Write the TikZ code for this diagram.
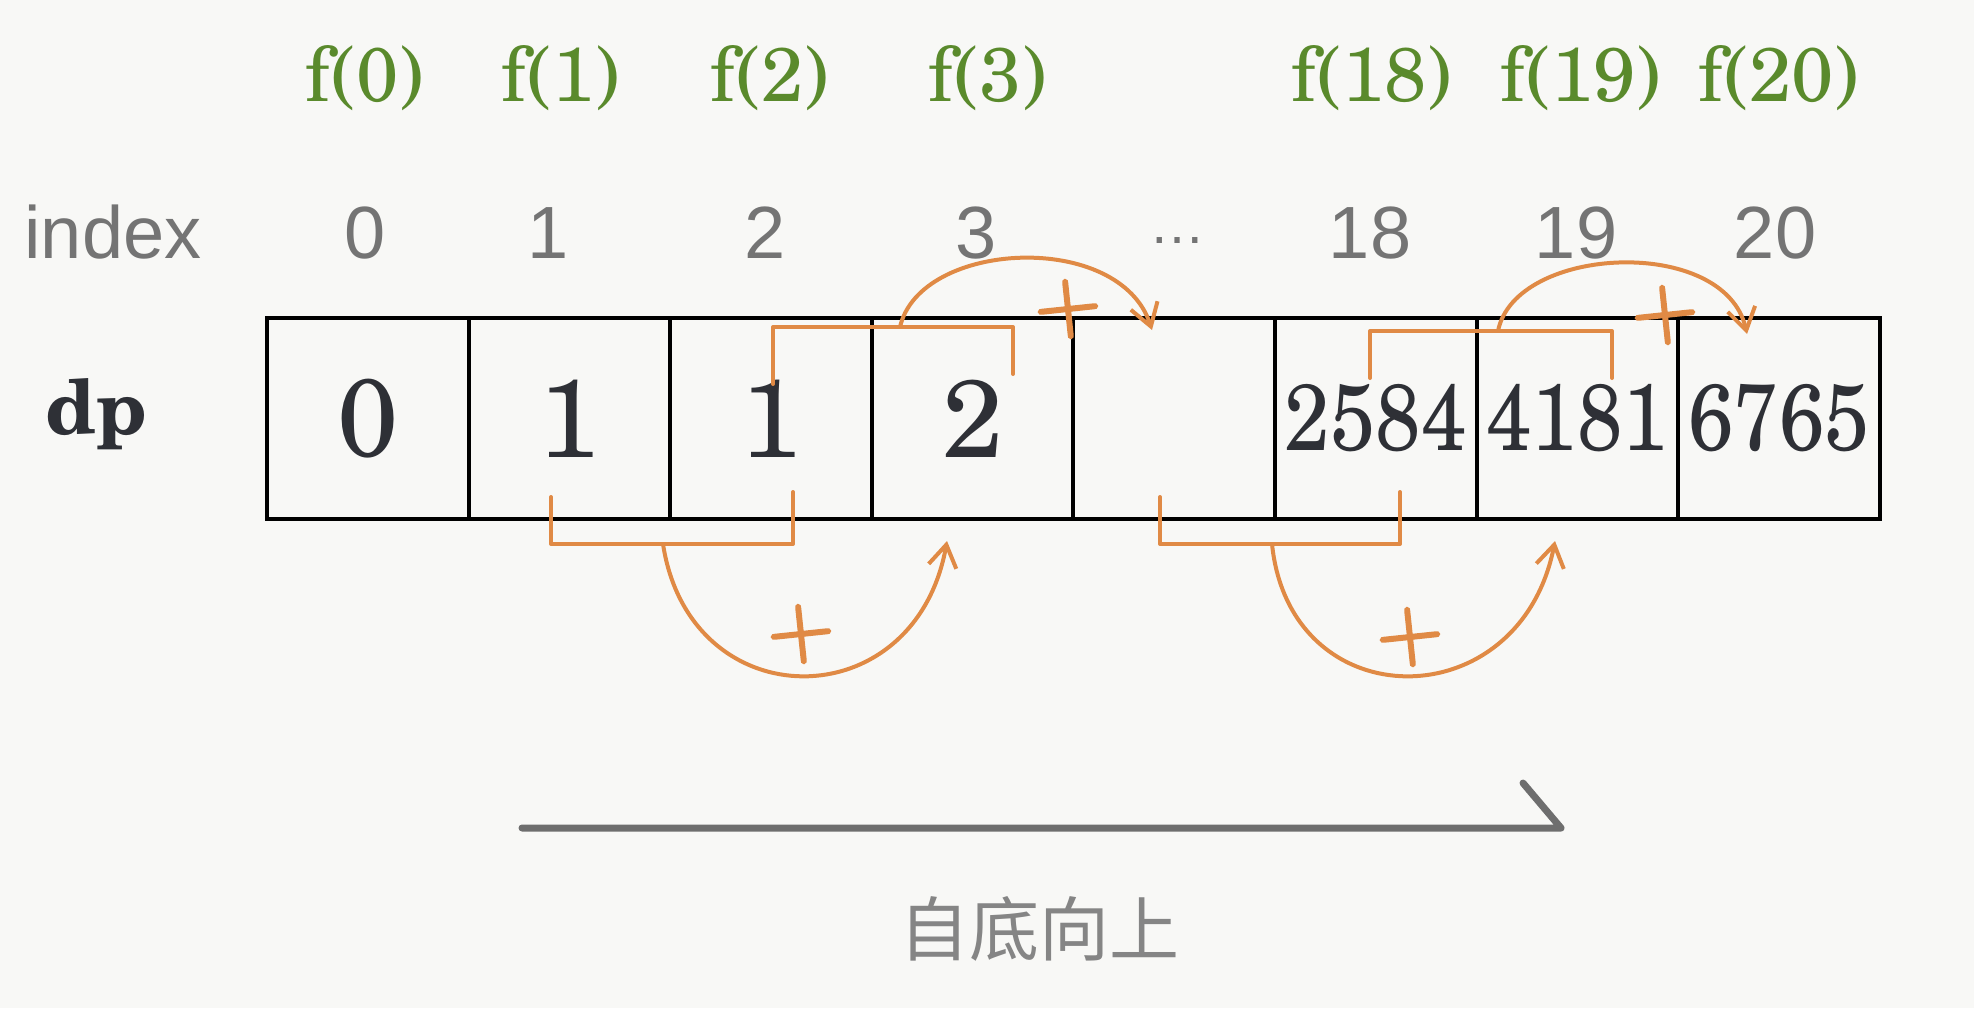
\documentclass[tikz,border=0pt]{standalone}
\usepackage{fontspec}
\newfontfamily\cjkfont{Noto Sans CJK SC}
\newfontfamily\idxfont{Liberation Sans}
\newfontfamily\numfont{texgyreschola}[Extension=.otf, UprightFont=*-regular, BoldFont=*-bold]
\newfontfamily\plusfont{Latin Modern Roman}[FakeBold=3]
\usetikzlibrary{arrows.meta}
\definecolor{bgc}{HTML}{F8F8F6}
\definecolor{fgreen}{HTML}{5A8A2C}
\definecolor{org}{HTML}{E08A45}
\definecolor{idxgray}{HTML}{747474}
\definecolor{numc}{HTML}{2E3036}
\definecolor{arrgray}{HTML}{6E6E6E}
\definecolor{cjkgray}{HTML}{858585}
\begin{document}
\begin{tikzpicture}[x=0.5pt,y=-0.5pt,
  cell/.style={draw=black, line width=2pt, minimum width=100.8pt, minimum height=100.5pt, inner sep=0pt, outer sep=0pt, text=numc, font=\numfont\fontsize{55}{55}\selectfont},
  flabel/.style={text=fgreen, anchor=base, inner sep=0pt, font=\numfont\fontsize{38}{40}\selectfont},
  idx/.style={text=idxgray, anchor=base, inner sep=0pt, font=\idxfont\fontsize{37}{40}\selectfont},
  orgline/.style={draw=org, line width=2pt, line cap=round, line join=round},
  orgarrow/.style={orgline, -{Straight Barb[length=11pt,width=14pt,line width=2pt]}},
  plus/.style={text=org, inner sep=0pt, font=\plusfont\fontsize{46}{46}\selectfont, rotate=6}
]
\useasboundingbox[fill=bgc] (0,0) rectangle (1974,1008);

% f labels
\node[flabel] (f0) at (365,101) {f(0)};
\node[flabel] (f1) at (561,101) {f(1)};
\node[flabel] (f2) at (770,101) {f(2)};
\node[flabel] (f3) at (988,101) {f(3)};
\node[flabel] (f18) at (1372,101) {f(18)};
\node[flabel] (f19) at (1581,101) {f(19)};
\node[flabel] (f20) at (1779,101) {f(20)};

% index row
\node[idx] (ix) at (113,258) {index};
\node[idx] (i0) at (365,258) {0};
\node[idx] (i1) at (548,258) {1};
\node[idx] (i2) at (765,258) {2};
\node[idx] (i3) at (976,258) {3};
\node[idx] (idots) at (1177,243) {\fontsize{28}{30}\selectfont …};
\node[idx] (i18) at (1370,258) {18};
\node[idx] (i19) at (1576,258) {19};
\node[idx] (i20) at (1775,258) {20};

% dp label
\node[text=numc, anchor=base, inner sep=0pt, font=\numfont\fontsize{38}{40}\selectfont\bfseries] (dp) at (96,434) {dp};

% cells
\node[cell] (b0) at (367.8,418.5) {0};
\node[cell] (b1) at (569.4,418.5) {1};
\node[cell] (b2) at (771,418.5) {1};
\node[cell] (b3) at (972.6,418.5) {2};
\node[cell] (b4) at (1174.2,418.5) {};
\node[cell] (b5) at (1375.8,418.5) {\fontsize{47}{47}\selectfont\scalebox{0.87}[1]{2584}};
\node[cell] (b6) at (1577.4,418.5) {\fontsize{47}{47}\selectfont\scalebox{0.87}[1]{4181}};
\node[cell] (b7) at (1779,418.5) {\fontsize{47}{47}\selectfont\scalebox{0.87}[1]{6765}};

% bracket 1 (bottom) and curve
\coordinate (k1a) at (551,497);
\coordinate (k1b) at (551,544);
\coordinate (k1c) at (793,544);
\coordinate (k1d) at (793,492);
\draw[orgline] (k1a) -- (k1b) -- (k1c) -- (k1d);
\coordinate (c1s) at (663,544);
\coordinate (c1e) at (947,541);
\draw[orgarrow] (c1s) .. controls (690,720) and (915,720) .. (c1e);
\node[plus] (p1) at (801,634) {+};

% bracket 2 (top) and curve
\coordinate (k2a) at (773,384);
\coordinate (k2b) at (773,327);
\coordinate (k2c) at (1013,327);
\coordinate (k2d) at (1013,374);
\draw[orgline] (k2a) -- (k2b) -- (k2c) -- (k2d);
\coordinate (c2s) at (900,327);
\coordinate (c2e) at (1152,330);
\draw[orgarrow] (c2s) .. controls (920,240) and (1120,230) .. (c2e);
\node[plus] (p2) at (1068,309) {+};

% bracket 3 (bottom) and curve
\coordinate (k3a) at (1160,497);
\coordinate (k3b) at (1160,544);
\coordinate (k3c) at (1400,544);
\coordinate (k3d) at (1400,492);
\draw[orgline] (k3a) -- (k3b) -- (k3c) -- (k3d);
\coordinate (c3s) at (1272,544);
\coordinate (c3e) at (1555,541);
\draw[orgarrow] (c3s) .. controls (1290,720) and (1520,720) .. (c3e);
\node[plus] (p3) at (1410,637) {+};

% bracket 4 (top) and curve
\coordinate (k4a) at (1370,378);
\coordinate (k4b) at (1370,331);
\coordinate (k4c) at (1612,331);
\coordinate (k4d) at (1612,378);
\draw[orgline] (k4a) -- (k4b) -- (k4c) -- (k4d);
\coordinate (c4s) at (1498,331);
\coordinate (c4e) at (1747,334);
\draw[orgarrow] (c4s) .. controls (1515,245) and (1725,235) .. (c4e);
\node[plus] (p4) at (1665,315) {+};

% gray direction arrow
\coordinate (ga) at (522,828);
\coordinate (gb) at (1561,828);
\coordinate (gh) at (1523,783);
\draw[arrgray, line width=3.5pt, line cap=round, line join=round] (ga) -- (gb) -- (gh);

\node[text=cjkgray, inner sep=0pt, font=\cjkfont\fontsize{35}{36}\selectfont] (lbl) at (1039,929) {自底向上};
\end{tikzpicture}
\end{document}
